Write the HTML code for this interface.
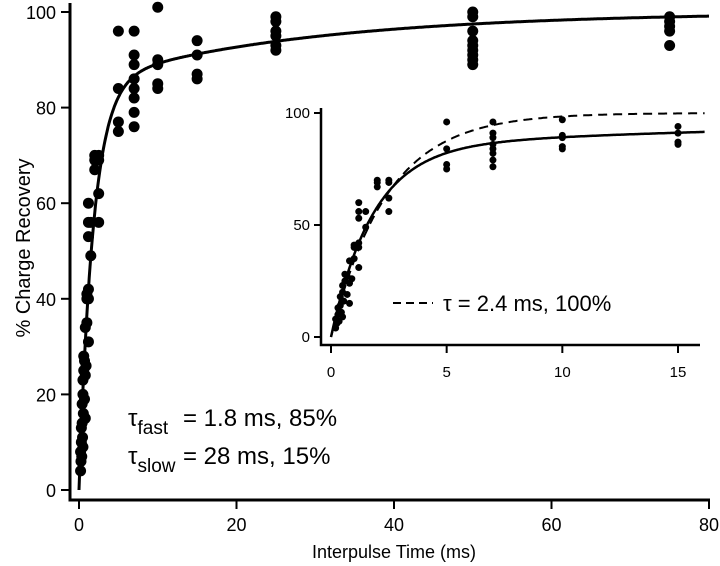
<!DOCTYPE html>
<html><head><meta charset="utf-8"><style>
html,body{margin:0;padding:0;background:#fff;}
svg{display:block;font-family:"Liberation Sans",sans-serif;}
</style></head><body>
<svg id="chart" width="720" height="566" viewBox="0 0 720 566"></svg>
<script>
const times = [0.2,0.2,0.25,0.3,0.3,0.35,0.4,0.4,0.45,0.5,0.5,0.5,0.55,0.6,0.6,0.7,0.7,0.8,0.8,0.8,0.9,1,1,1,1.2,1.2,1.2,1.2,1.2,1.2,1.5,1.5,2,2,2,2.5,2.5,2.5,2.5,
5,5,5,5,7,7,7,7,7,7,7,7,10,10,10,10,10,15,15,15,15,25,25,25,25,25,25,50,50,50,50,50,50,50,50,50,75,75,75,75,75];
const values = [4,8,6,13,10,7,14,18,11,20,23,9,16,25,28,27,19,15,24,34,26,35,40,41,31,40,42,53,56,60,56,49,67,69,70,56,62,69,70,
96,84,77,75,96,91,89,86,84,82,79,76,101,90,89,85,84,94,91,87,86,99,98,96,95,93,92,100,99,96,94,93,92,91,90,89,99,98,97,96,93];
const mainXTicks = [0,20,40,60,80];
const mainYTicks = [0,20,40,60,80,100];
const insetXTicks = [0,5,10,15];
const insetYTicks = [0,50,100];
const fastTau = 1.8, slowTau = 28, fastFrac = 0.85, singleTau = 2.4;

const NS="http://www.w3.org/2000/svg";
const svg=document.getElementById('chart');
function mk(tag,attrs,parent){const e=document.createElementNS(NS,tag);for(const k in attrs)e.setAttribute(k,attrs[k]);(parent||svg).appendChild(e);return e;}
function fit2(t){return 100*(fastFrac*(1-Math.exp(-t/fastTau))+(1-fastFrac)*(1-Math.exp(-t/slowTau)));}
function fit1(t){return 100*(1-Math.exp(-t/singleTau));}

// main axes
const mx=v=>79+v*(709-79)/80, my=v=>490-v*(490-12)/100;
let e;
e=mk('path',{d:'M70,3 V500 H710',fill:'none',stroke:'#000','stroke-width':3});

mainYTicks.forEach(v=>{
 e=mk('line',{x1:61,x2:70,y1:my(v),y2:my(v),stroke:'#000','stroke-width':2});
 
 e=mk('text',{x:56,y:my(v)+7,'text-anchor':'end','font-size':18});e.textContent=v;
 
});
mainXTicks.forEach(v=>{
 e=mk('line',{x1:mx(v),x2:mx(v),y1:500,y2:509,stroke:'#000','stroke-width':2});
 
 e=mk('text',{x:mx(v),y:531,'text-anchor':'middle','font-size':18});e.textContent=v;
 
});
e=mk('text',{x:394,y:558,'text-anchor':'middle','font-size':18});e.textContent='Interpulse Time (ms)';

e=mk('text',{x:0,y:0,'text-anchor':'middle','font-size':20,transform:'translate(30,248) rotate(-90)'});e.textContent='% Charge Recovery';


// main points
times.forEach((t,i)=>{
 e=mk('circle',{cx:mx(t),cy:my(values[i]),r:5.5,fill:'#000'});
 
});
let d='';for(let t=0;t<=80;t+=0.1){d+=(t?'L':'M')+mx(t).toFixed(1)+','+my(fit2(t)).toFixed(1);}
e=mk('path',{d:d,fill:'none',stroke:'#000','stroke-width':3});


// annotations
e=mk('text',{x:128,y:426,'font-size':24});
e.innerHTML='τ<tspan font-size="19" dy="8">fast</tspan><tspan dy="-8" x="183">=  1.8 ms, 85%</tspan>';

e=mk('text',{x:128,y:464,'font-size':24});
e.innerHTML='τ<tspan font-size="19" dy="8">slow</tspan><tspan dy="-8" x="183">= 28  ms, 15%</tspan>';


// inset
const ix=v=>331+v*(678-331)/15, iy=v=>337-v*(337-113)/100;
e=mk('path',{d:'M321,108 V345 H700',fill:'none',stroke:'#000','stroke-width':2.5});

insetYTicks.forEach(v=>{
 e=mk('line',{x1:314,x2:321,y1:iy(v),y2:iy(v),stroke:'#000','stroke-width':2});
 
 e=mk('text',{x:310,y:iy(v)+5,'text-anchor':'end','font-size':15});e.textContent=v;
 
});
insetXTicks.forEach(v=>{
 e=mk('line',{x1:ix(v),x2:ix(v),y1:345,y2:353,stroke:'#000','stroke-width':2});
 
 e=mk('text',{x:ix(v),y:377,'text-anchor':'middle','font-size':15});e.textContent=v;
 
});
times.forEach((t,i)=>{ if(t>15.5) return;
 e=mk('circle',{cx:ix(t),cy:iy(Math.min(values[i],97)),r:3.5,fill:'#000'});
 
});
d='';for(let t=0;t<=16.2;t+=0.05){d+=(t?'L':'M')+ix(t).toFixed(1)+','+iy(fit2(t)).toFixed(1);}
e=mk('path',{d:d,fill:'none',stroke:'#000','stroke-width':2.5});

d='';for(let t=0;t<=16.2;t+=0.05){d+=(t?'L':'M')+ix(t).toFixed(1)+','+iy(fit1(t)).toFixed(1);}
e=mk('path',{d:d,fill:'none',stroke:'#000','stroke-width':2,'stroke-dasharray':'9,6'});

e=mk('line',{x1:393,x2:433,y1:303,y2:303,stroke:'#000','stroke-width':2,'stroke-dasharray':'8,5'});

e=mk('text',{x:443,y:311,'font-size':22});e.textContent='τ = 2.4 ms, 100%';

</script>
</body></html>
